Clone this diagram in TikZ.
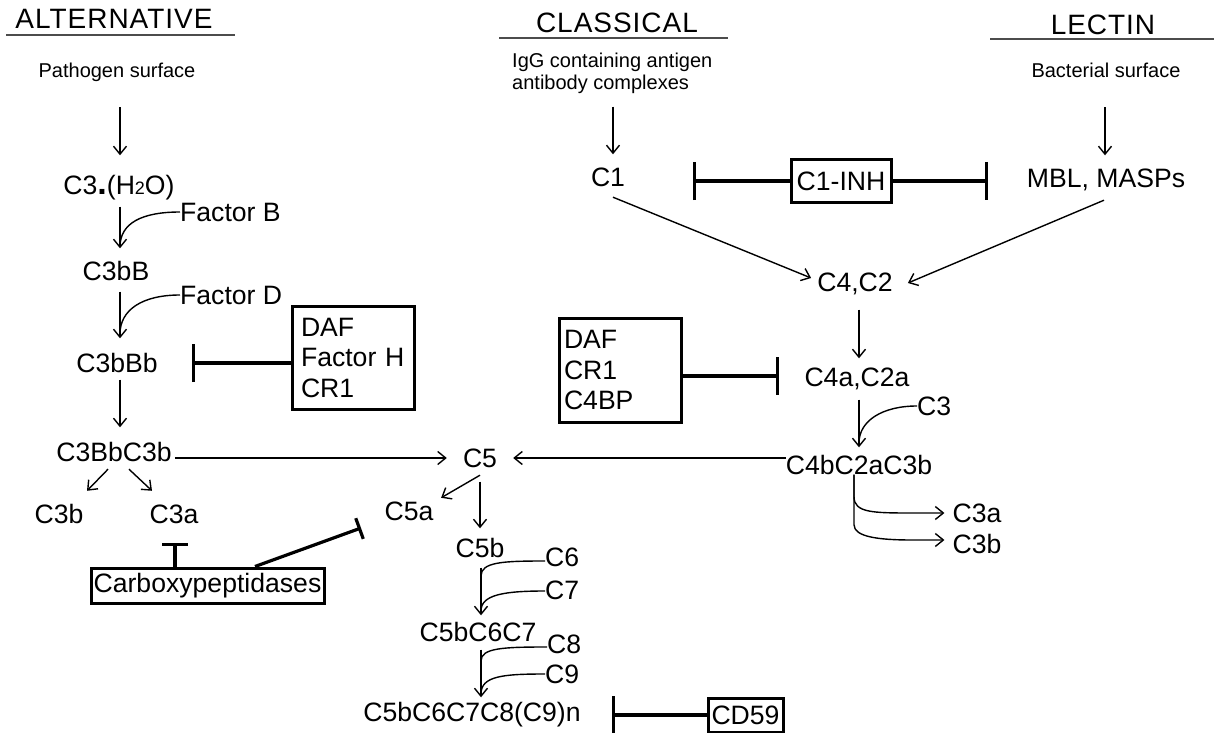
\documentclass[tikz,border=0pt]{standalone}
\usepackage{fontspec}
\setmainfont{Liberation Sans}
\usetikzlibrary{arrows.meta,calc}

\newcommand\mainsz{\fontsize{26.6}{30.5}\selectfont}
\newcommand\smallsz{\fontsize{20}{22}\selectfont}
\newcommand\titlesz{\fontsize{28}{32}\selectfont\addfontfeature{LetterSpace=3.5}}

\begin{document}
\begin{tikzpicture}[
  x=1pt, y=-1pt,
  lbl/.style={inner sep=0pt, font=\mainsz, text height=19pt, text depth=0pt},
  src/.style={inner sep=0pt, font=\smallsz, text height=14.3pt, text depth=0pt},
  title/.style={inner sep=0pt, font=\titlesz, text height=20pt, text depth=0pt},
  box/.style={draw, line width=3pt, inner sep=0pt, font=\mainsz},
  arr/.style={-{Straight Barb[length=8pt,width=13pt]}, line width=1.4pt},
  feed/.style={line width=1.4pt},
  inh/.style={-{Bar[width=#1]}, line width=3.2pt},
  inh/.default=38pt,
  headline/.style={line width=1.6pt, black!70}
]
  \useasboundingbox (0,0) rectangle (1216,733);

  % headings
  \node[title] (altT) at (114,19) {ALTERNATIVE};
  \node[title] (claT) at (617,23) {CLASSICAL};
  \node[title] (lecT) at (1103,25) {LECTIN};
  \draw[headline] (6,35) -- (235,35);
  \draw[headline] (499,38) -- (728,38);
  \draw[headline] (990,39) -- (1214,39);

  % alternative pathway
  \node[src] (path) at (117,70) {Pathogen surface};
  \node[lbl] (c3h) at (119,185) {C3{\fontsize{34}{34}\selectfont\textbf{.}}(H{\fontsize{18}{18}\selectfont 2}O)};
  \node[lbl, anchor=west] (factB) at (180,212) {Factor B};
  \node[lbl] (c3bB) at (116,271) {C3bB};
  \node[lbl, anchor=west] (factD) at (180,295) {Factor D};
  \node[lbl] (c3bBb) at (117,363) {C3bBb};
  \node[box, minimum width=122pt, minimum height=103pt, text width=104pt, align=left] (boxH) at (353,357.5) {DAF\\Factor H\\CR1};
  \node[lbl] (c3BbC3b) at (114,452) {C3BbC3b};
  \node[lbl] (c3bL) at (59,514) {C3b};
  \node[lbl] (c3aL) at (174,514) {C3a};
  \node[box, minimum width=233pt, minimum height=35pt] (carb) at (207.5,585.5) {Carboxypeptidases};

  % terminal pathway
  \node[lbl] (c5) at (480,458) {C5};
  \node[lbl] (c5a) at (409,511) {C5a};
  \node[lbl] (c5b) at (480,548) {C5b};
  \node[lbl, anchor=west] (c6) at (545,557) {C6};
  \node[lbl, anchor=west] (c7) at (545,590) {C7};
  \node[lbl] (c5b67) at (478,632) {C5bC6C7};
  \node[lbl, anchor=west] (c8) at (547,644) {C8};
  \node[lbl, anchor=west] (c9) at (545,674) {C9};
  \node[lbl] (mac) at (472,712) {C5bC6C7C8(C9)n};
  \node[box, minimum width=75pt, minimum height=34pt] (cd59) at (745.5,715) {CD59};

  % classical and lectin pathways
  \node[inner sep=0pt, font=\smallsz, align=left, anchor=west] (igg) at (512,73.2) {IgG containing antigen\\antibody complexes};
  \node[src] (bact) at (1106,70) {Bacterial surface};
  \node[lbl] (c1) at (608,177) {C1};
  \node[box, minimum width=100pt, minimum height=42pt] (c1inh) at (841,181) {C1-INH};
  \node[lbl] (mbl) at (1106,178) {MBL, MASPs};
  \node[lbl] (c4c2) at (855,282) {C4,C2};
  \node[box, minimum width=122pt, minimum height=104pt, text width=112pt, align=left] (boxC) at (620,370) {DAF\\CR1\\C4BP};
  \node[lbl] (c4ac2a) at (857,377) {C4a,C2a};
  \node[lbl, anchor=west] (c3R) at (917,406) {C3};
  \node[lbl] (c4b) at (859,465) {C4bC2aC3b};
  \node[lbl] (c3aR) at (977,513) {C3a};
  \node[lbl] (c3bR) at (977,544) {C3b};

  % columns, joins and bar ends
  \coordinate (colA) at (120,0);
  \coordinate (colC1) at (613,0);
  \coordinate (colL) at (1105,0);
  \coordinate (colR) at (859,0);
  \coordinate (colS) at (854,0);
  \coordinate (colT) at (481,0);
  \coordinate (jB) at (120,247);
  \coordinate (jD) at (120,334);
  \coordinate (j3) at (859,443);
  \coordinate (j6) at (481,576);
  \coordinate (j7) at (481,611);
  \coordinate (j8) at (481,661);
  \coordinate (j9) at (481,694);
  \coordinate (barI1) at (693,181);
  \coordinate (barI2) at (988,181);
  \coordinate (barH) at (192,363);
  \coordinate (barC) at (779,376);
  \coordinate (barA) at (175,543);
  \coordinate (barB) at (361,528);
  \coordinate (barD) at (612,715);

  % alternative connectors
  \draw[arr, shorten <=30pt, shorten >=20pt] (path.south -| colA) -- (c3h.north -| colA);
  \draw[arr, shorten <=12pt, shorten >=13pt] (c3h.south -| colA) -- (c3bB.north -| colA);
  \draw[arr, shorten <=11pt, shorten >=15pt] (c3bB.south -| colA) -- (c3bBb.north -| colA);
  \draw[arr, shorten <=7pt, shorten >=15pt] (c3bBb.south -| colA) -- (c3BbC3b.north -| colA);
  \draw[feed] (factB.west) .. controls +(-38,0) and +(0,-24) .. (jB);
  \draw[feed] (factD.west) .. controls +(-38,0) and +(0,-24) .. (jD);
  \draw[inh] (boxH.west |- barH) -- (barH);
  \draw[arr, shorten <=3pt, shorten >=16pt] (c3BbC3b.east |- c5) -- (c5.west);
  \draw[arr] ($(c3BbC3b.south)+(-6,7.5)$) -- ($(c3bL.north)+(28,-13.5)$);
  \draw[arr] ($(c3BbC3b.south)+(15,7.5)$) -- ($(c3aL.north)+(-22,-13.5)$);
  \draw[inh=26pt] (carb.north -| barA) -- (barA);
  \draw[inh=22pt] ($(carb.north)+(47.5,0)$) -- (barB);

  % terminal connectors
  \draw[arr, shorten >=16pt] (c4b.west |- c5) -- (c5.east);
  \draw[arr] ($(c5.south)+(0,7.5)$) -- ($(c5a.north east)+(7.5,-3.5)$);
  \draw[arr, shorten <=14pt, shorten >=10pt] (c5.south) -- (c5b.north);
  \draw[arr, shorten <=10pt, shorten >=7pt] (c5b.south -| colT) -- (c5b67.north -| colT);
  \draw[arr, shorten <=8pt, shorten >=5pt] (c5b67.south -| colT) -- (mac.north -| colT);
  \draw[feed] ([yshift=-4pt]c6.west) .. controls +(-42,0) and +(0,-14) .. (j6);
  \draw[feed] ([yshift=-1pt]c7.west) .. controls +(-42,0) and +(0,-16) .. (j7);
  \draw[feed] ([yshift=-3pt]c8.west) .. controls +(-44,0) and +(0,-13) .. (j8);
  \draw[feed] (c9.west) .. controls +(-42,0) and +(0,-18) .. (j9);
  \draw[inh] (cd59.west) -- (barD);

  % classical and lectin connectors
  \draw[arr, shorten <=13pt, shorten >=13pt] (igg.south -| colC1) -- (c1.north -| colC1);
  \draw[arr, shorten <=30pt, shorten >=13pt] (bact.south -| colL) -- (mbl.north -| colL);
  \draw[inh] (c1inh.west) -- (barI1);
  \draw[inh] (c1inh.east) -- (barI2);
  \draw[arr] ($(c1.south)+(5,10.5)$) -- ($(c4c2.west)+(-6,-4)$);
  \draw[arr] ($(mbl.south)+(-2,12.5)$) -- ($(c4c2.east)+(15,1)$);
  \draw[arr, shorten <=18pt, shorten >=9pt] (c4c2.south -| colR) -- (c4ac2a.north -| colR);
  \draw[inh] (boxC.east |- barC) -- (barC);
  \draw[arr, shorten <=13pt, shorten >=8pt] (c4ac2a.south -| colR) -- (c4b.north -| colR);
  \draw[feed] (c3R.west) .. controls +(-35,0) and +(0,-22) .. (j3);
  \draw[arr, shorten >=8pt] (c4b.south -| colS) -- ++(0,22) .. controls +(0,16) and +(-40,0) .. ([xshift=-40pt]c3aR.west) -- (c3aR.west);
  \draw[arr, shorten >=8pt] (c4b.south -| colS) -- ++(0,50) .. controls +(0,12) and +(-35,0) .. ([xshift=-40pt,yshift=4pt]c3bR.west) -- ([yshift=4pt]c3bR.west);
\end{tikzpicture}
\end{document}
